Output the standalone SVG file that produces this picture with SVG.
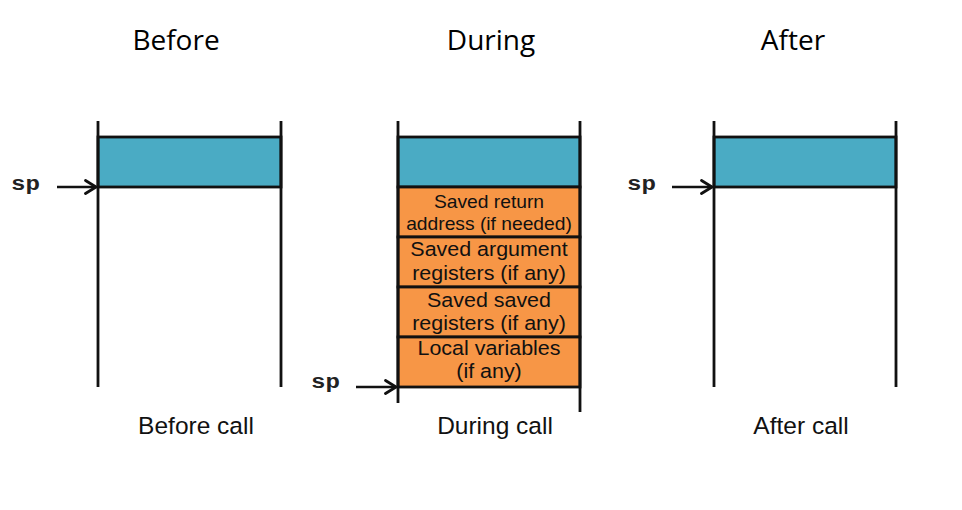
<svg xmlns="http://www.w3.org/2000/svg" width="962" height="510" viewBox="0 0 962 510">
<style>
.title{font-family:"Open Sans","Noto Sans",sans-serif;font-size:28px;fill:#000;text-anchor:middle}
.cap{font-family:"Liberation Sans",Arial,sans-serif;font-size:24.5px;fill:#111;text-anchor:middle}
.lbl{font-family:"Liberation Sans",Arial,sans-serif;font-size:17.5px;fill:#111;text-anchor:middle}
.lbl2{font-family:"Liberation Sans",Arial,sans-serif;font-size:19.5px;fill:#111;text-anchor:middle}
.sp{font-family:"Liberation Mono","Courier New",monospace;font-weight:bold;font-size:21px;fill:#222}
.wall{stroke:#111;stroke-width:2.8;fill:none}
.blue{fill:#4AABC4;stroke:#111;stroke-width:2.8}
.orange{fill:#F79646;stroke:#111;stroke-width:2.8}
.arrow{stroke:#111;stroke-width:2.6;fill:none}
</style>
<defs>
<marker id="ah" viewBox="0 0 14 16" refX="12.5" refY="8" markerWidth="14" markerHeight="16" markerUnits="userSpaceOnUse" orient="auto">
<path d="M2,1.5 L12.5,8 L2,14.5" fill="none" stroke="#111" stroke-width="2.8" stroke-linecap="round" stroke-linejoin="round"/>
</marker>
</defs>
<rect width="962" height="510" fill="#fff"/>
<text class="title" x="176" y="50">Before</text>
<text class="title" x="491" y="50">During</text>
<text class="title" x="793" y="50">After</text>

<g id="before">
<rect class="blue" x="98" y="137" width="183" height="50"/>
<path class="wall" d="M98,121 V387 M281,121 V387"/>
<text class="sp" transform="translate(11 190) scale(1.15 1)" x="0" y="0">sp</text>
<text class="cap" x="196" y="434">Before call</text>
</g>

<g id="during">
<rect class="blue" x="398" y="137" width="182" height="50"/>
<rect class="orange" x="398" y="187" width="182" height="50"/>
<rect class="orange" x="398" y="237" width="182" height="50"/>
<rect class="orange" x="398" y="287" width="182" height="50"/>
<rect class="orange" x="398" y="337" width="182" height="50"/>
<path class="wall" d="M398,121 V403 M580,121 V412"/>
<g transform="translate(489 0) scale(1.1 1)">
<text class="lbl" x="0" y="208">Saved return</text>
<text class="lbl" x="0" y="230">address (if needed)</text>
<text class="lbl2" x="0" y="256">Saved argument</text>
<text class="lbl2" x="0" y="280">registers (if any)</text>
<text class="lbl2" x="0" y="307">Saved saved</text>
<text class="lbl2" x="0" y="330">registers (if any)</text>
<text class="lbl2" x="0" y="355">Local variables</text>
<text class="lbl2" x="0" y="378">(if any)</text>
</g>
<text class="sp" transform="translate(311 388) scale(1.15 1)" x="0" y="0">sp</text>
<text class="cap" x="495" y="434">During call</text>
</g>

<g id="after">
<rect class="blue" x="714" y="137" width="182" height="50"/>
<path class="wall" d="M714,121 V387 M896,121 V387"/>
<text class="sp" transform="translate(627 190) scale(1.15 1)" x="0" y="0">sp</text>
<text class="cap" x="801" y="434">After call</text>
</g>

<g id="connectors">
<line class="arrow" x1="57" y1="187" x2="96" y2="187" marker-end="url(#ah)"/>
<line class="arrow" x1="356" y1="387" x2="396" y2="387" marker-end="url(#ah)"/>
<line class="arrow" x1="672" y1="187" x2="712" y2="187" marker-end="url(#ah)"/>
</g>
</svg>
